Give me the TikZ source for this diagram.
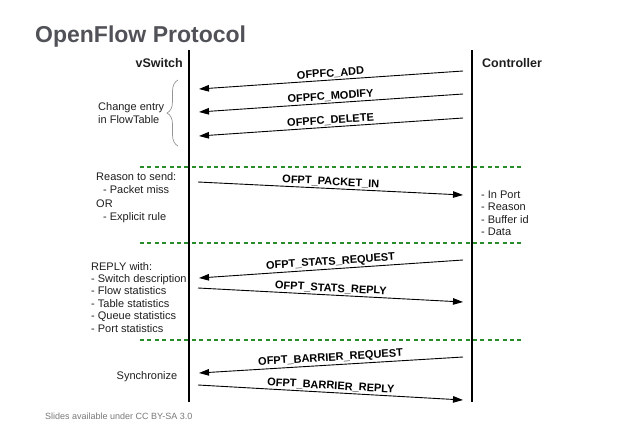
\documentclass[tikz,border=0pt]{standalone}
\usepackage{fontspec}
\setmainfont{Liberation Sans}
\usetikzlibrary{arrows.meta,decorations.pathreplacing}
\definecolor{titlecol}{RGB}{80,82,88}
\definecolor{textcol}{RGB}{30,30,30}
\definecolor{sepgreen}{RGB}{40,140,40}
\definecolor{bracecol}{RGB}{150,150,150}
\definecolor{footcol}{RGB}{120,120,120}
\begin{document}
\begin{tikzpicture}[x=1pt,y=-1pt,
  msg/.style={line width=0.9pt,-{Triangle[length=10pt,width=6.5pt]}},
  lbl/.style={midway,above,sloped,inner sep=1.5pt,font=\fontsize{11}{12}\selectfont\bfseries},
  life/.style={line width=2pt},
  sepline/.style={draw=sepgreen,line width=2.5pt,dash pattern=on 4pt off 3.4pt},
  txt/.style={font=\fontsize{11}{12.4}\selectfont,align=left,anchor=north west,inner sep=0pt,text=textcol},
  head/.style={font=\fontsize{12.5}{14}\selectfont\bfseries,inner sep=0pt,text=textcol}]
\useasboundingbox (0,0) rectangle (638,426);

% title
\node[anchor=base west,inner sep=0pt,text=titlecol,font=\fontsize{23}{27}\selectfont\bfseries] (title) at (35,42) {OpenFlow Protocol};

% headers
\node[head,anchor=base east] (vs) at (183,67) {vSwitch};
\node[head,anchor=base west] (ct) at (482,67) {Controller};

% lifelines
\coordinate (sTop) at (189,50);
\coordinate (sBot) at (189,402);
\coordinate (cTop) at (472,50);
\coordinate (cBot) at (472,402);
\draw[life] (sTop) -- (sBot);
\draw[life] (cTop) -- (cBot);

% separators
\coordinate (d1a) at (140,167); \coordinate (d1b) at (522,167);
\coordinate (d2a) at (140,243); \coordinate (d2b) at (522,243);
\coordinate (d3a) at (140,340); \coordinate (d3b) at (522,340);
\draw[sepline] (d1a) -- (d1b);
\draw[sepline] (d2a) -- (d2b);
\draw[sepline] (d3a) -- (d3b);

% message end points
\coordinate (a1c) at (463,71);  \coordinate (a1s) at (199,89);
\coordinate (a2c) at (463,94);  \coordinate (a2s) at (199,112);
\coordinate (a3c) at (463,118); \coordinate (a3s) at (199,136);
\coordinate (ps) at (198,182);  \coordinate (pc) at (463,195);
\coordinate (r1c) at (463,260); \coordinate (r1s) at (199,278);
\coordinate (r2s) at (198,288); \coordinate (r2c) at (463,302);
\coordinate (b1c) at (463,357); \coordinate (b1s) at (199,373);
\coordinate (b2s) at (198,385); \coordinate (b2c) at (463,400);

\draw[msg] (a1c) -- node[lbl] (l1) {OFPFC\_ADD} (a1s);
\draw[msg] (a2c) -- node[lbl] (l2) {OFPFC\_MODIFY} (a2s);
\draw[msg] (a3c) -- node[lbl] (l3) {OFPFC\_DELETE} (a3s);
\draw[msg] (ps) -- node[lbl] (l4) {OFPT\_PACKET\_IN} (pc);
\draw[msg] (r1c) -- node[lbl] (l5) {OFPT\_STATS\_REQUEST} (r1s);
\draw[msg] (r2s) -- node[lbl] (l6) {OFPT\_STATS\_REPLY} (r2c);
\draw[msg] (b1c) -- node[lbl] (l7) {OFPT\_BARRIER\_REQUEST} (b1s);
\draw[msg] (b2s) -- node[lbl] (l8) {OFPT\_BARRIER\_REPLY} (b2c);

% brace
\coordinate (brB) at (178,146);
\coordinate (brT) at (178,80);
\draw[bracecol,line width=0.7pt,decorate,decoration={brace,amplitude=11pt}] (brB) -- (brT);

% side texts
\node[txt] (chg) at (98,102.5) {Change entry\\in FlowTable};
\node[txt,font=\fontsize{11}{13.3}\selectfont] (reason) at (96,172.5) {Reason to send:\\\hspace*{7pt}- Packet miss\\OR\\\hspace*{7pt}- Explicit rule};
\node[txt] (fields) at (481,190.5) {- In Port\\- Reason\\- Buffer id\\- Data};
\node[txt] (reply) at (91,262) {REPLY with:\\- Switch description\\- Flow statistics\\- Table statistics\\- Queue statistics\\- Port statistics};
\node[font=\fontsize{11}{13}\selectfont,inner sep=0pt,text=textcol] (sync) at (147,377) {Synchronize};

% footer
\node[anchor=base west,inner sep=0pt,text=footcol,font=\fontsize{9}{10}\selectfont] (foot) at (45,419) {Slides available under CC BY-SA 3.0};
\end{tikzpicture}
\end{document}
